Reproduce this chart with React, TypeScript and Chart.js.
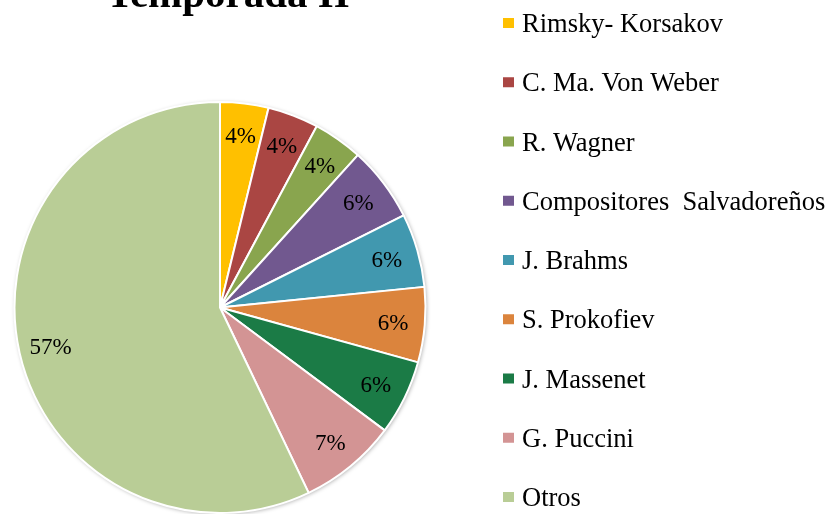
import React, { useEffect, useRef } from "react";
import { Chart, registerables } from "chart.js";

Chart.register(...registerables);

const title = "Temporada II";
const categories = [
  "Rimsky- Korsakov",
  "C. Ma. Von Weber",
  "R. Wagner",
  "Compositores  Salvadoreños",
  "J. Brahms",
  "S. Prokofiev",
  "J. Massenet",
  "G. Puccini",
  "Otros",
];
const values = [3.8, 4.0, 3.9, 5.9, 5.8, 5.9, 5.9, 7.7, 57.1];
const valueLabels = ["4%", "4%", "4%", "6%", "6%", "6%", "6%", "7%", "57%"];
const colors = [
  "#FFC000",
  "#AA4643",
  "#89A54E",
  "#71588F",
  "#4198AF",
  "#DB843D",
  "#1B7B46",
  "#D39494",
  "#B9CD96",
];

const SERIF = '"Liberation Serif", "Times New Roman", serif';

const decorPlugin = {
  id: "decor",
  beforeDatasetsDraw(chart: any) {
    const meta = chart.getDatasetMeta(0);
    const arc = meta.data[0];
    if (!arc) return;
    const { x, y, outerRadius } = arc.getProps(["x", "y", "outerRadius"], true);
    const ctx = chart.ctx;
    ctx.save();
    ctx.shadowColor = "rgba(0,0,0,0.35)";
    ctx.shadowBlur = 4;
    ctx.shadowOffsetX = 1;
    ctx.shadowOffsetY = 1;
    ctx.fillStyle = "#ffffff";
    ctx.beginPath();
    ctx.arc(x, y, outerRadius, 0, Math.PI * 2);
    ctx.fill();
    ctx.restore();
  },
  afterDraw(chart: any) {
    const ctx = chart.ctx;
    ctx.save();
    // title
    ctx.fillStyle = "#000";
    ctx.font = `bold 41px ${SERIF}`;
    ctx.textAlign = "center";
    ctx.textBaseline = "alphabetic";
    ctx.fillText(title, 228, 7);

    // data labels
    const meta = chart.getDatasetMeta(0);
    ctx.font = `23px ${SERIF}`;
    ctx.textAlign = "center";
    ctx.textBaseline = "middle";
    meta.data.forEach((el: any, i: number) => {
      const p = el.getProps(["x", "y", "startAngle", "endAngle", "outerRadius"], true);
      const mid = (p.startAngle + p.endAngle) / 2;
      const r = p.outerRadius * 0.845;
      ctx.fillStyle = "#000";
      ctx.fillText(valueLabels[i], p.x + Math.cos(mid) * r, p.y + Math.sin(mid) * r + 2);
    });

    // legend
    ctx.font = `26.5px ${SERIF}`;
    ctx.textAlign = "left";
    ctx.textBaseline = "alphabetic";
    categories.forEach((c, i) => {
      const base = 32 + i * 59.25;
      ctx.fillStyle = colors[i];
      ctx.fillRect(503, base - 14, 11, 10);
      ctx.fillStyle = "#000";
      ctx.fillText(c, 522, base);
    });
    ctx.restore();
  },
};

export default function App() {
  const ref = useRef<HTMLCanvasElement>(null);
  useEffect(() => {
    if (!ref.current) return;
    const chart = new Chart(ref.current, {
      type: "pie",
      data: {
        labels: categories,
        datasets: [
          {
            data: values,
            backgroundColor: colors,
            borderColor: "#ffffff",
            borderWidth: 2,
          },
        ],
      },
      options: {
        responsive: false,
        animation: false,
        layout: { padding: { left: 13, top: 101, right: 400, bottom: 0 } },
        plugins: {
          legend: { display: false },
          tooltip: { enabled: false },
          title: { display: false },
        },
      },
      plugins: [decorPlugin],
    });
    return () => chart.destroy();
  }, []);
  return (
    <div style={{ position: "fixed", left: 0, top: 0, width: 827, height: 514, background: "#fff" }}>
      <canvas ref={ref} width={827} height={514} />
    </div>
  );
}
